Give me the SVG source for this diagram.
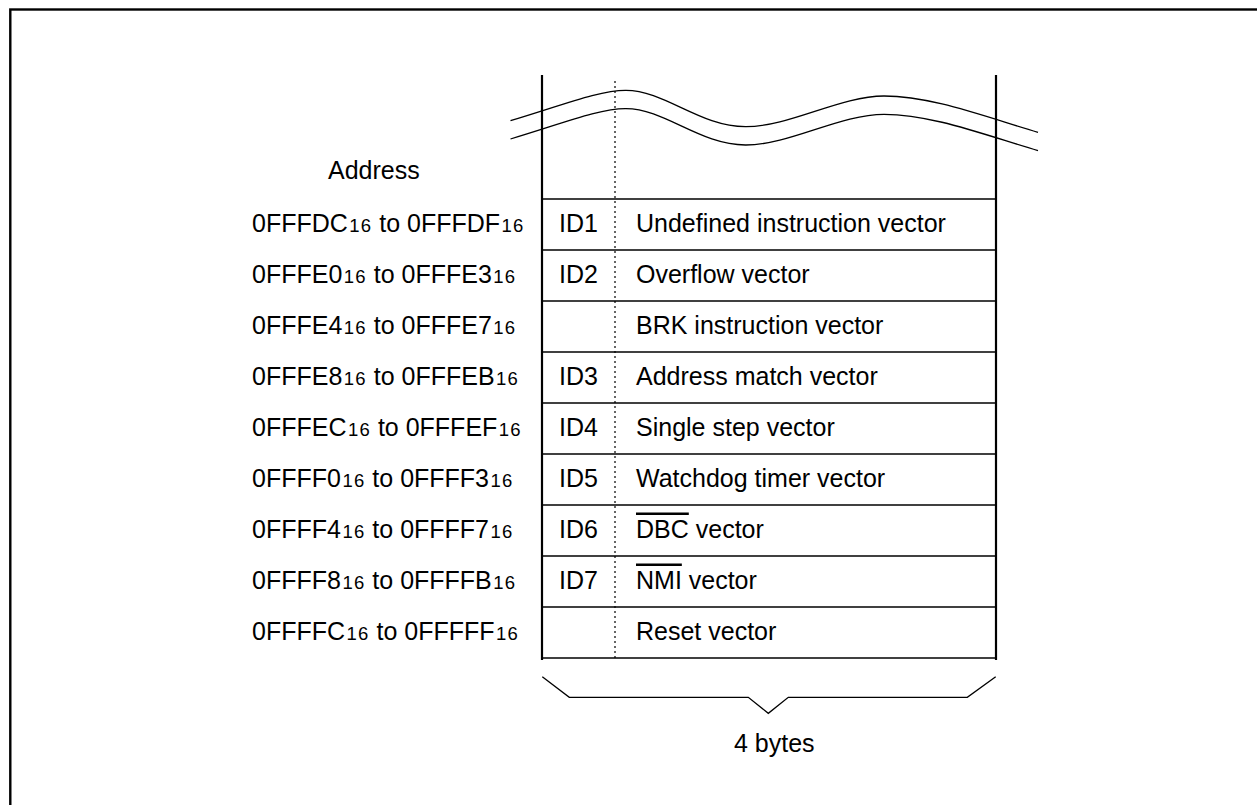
<svg xmlns="http://www.w3.org/2000/svg" width="1257" height="805" viewBox="0 0 1257 805">
<style>
text{font-family:"Liberation Sans",Arial,sans-serif;font-size:25px;fill:#000}
.sub{font-size:18.5px;letter-spacing:1.2px}
.id{text-anchor:middle}
.thin{fill:none;stroke:#000;stroke-width:1.3}
.row{stroke:#000;stroke-width:1.5}
.col{stroke:#000;stroke-width:2.2}
.dot{stroke:#000;stroke-width:1.2;stroke-dasharray:2 3}
.ov{text-decoration:overline}
</style>
<rect x="10.3" y="9.5" width="1400" height="1000" fill="#fff" stroke="#000" stroke-width="2.4"/>
<g id="table">
<line class="col" x1="542" y1="75" x2="542" y2="660"/>
<line class="col" x1="996" y1="75" x2="996" y2="660"/>
<line class="dot" x1="615" y1="81" x2="615" y2="658"/>
<g id="break">
<path class="thin" d="M510.5,120.7 C560,106 600,90 626,90.3 C665,90.5 700,127 746,126.7 C790,126.5 840,96 884,96 C930,96 980,115 1038,132.3"/>
<path class="thin" d="M510.5,120.7 C560,106 600,90 626,90.3 C665,90.5 700,127 746,126.7 C790,126.5 840,96 884,96 C930,96 980,115 1038,132.3" transform="translate(0,18.3)"/>
</g>
<g id="rowlines">
<line class="row" x1="542" y1="199" x2="996" y2="199"/>
<line class="row" x1="542" y1="250" x2="996" y2="250"/>
<line class="row" x1="542" y1="301" x2="996" y2="301"/>
<line class="row" x1="542" y1="352" x2="996" y2="352"/>
<line class="row" x1="542" y1="403" x2="996" y2="403"/>
<line class="row" x1="542" y1="454" x2="996" y2="454"/>
<line class="row" x1="542" y1="505" x2="996" y2="505"/>
<line class="row" x1="542" y1="556" x2="996" y2="556"/>
<line class="row" x1="542" y1="607" x2="996" y2="607"/>
<line class="row" x1="542" y1="658" x2="996" y2="658"/>
</g>
</g>
<text id="address-title" x="328" y="179">Address</text>
<g id="row1"><text x="252" y="231.5">0FFFDC<tspan class="sub" dx="1.5">16</tspan> to 0FFFDF<tspan class="sub" dx="1.5">16</tspan></text><text class="id" x="578.5" y="231.5">ID1</text><text x="636" y="231.5">Undefined instruction vector</text></g>
<g id="row2"><text x="252" y="282.5">0FFFE0<tspan class="sub" dx="1.5">16</tspan> to 0FFFE3<tspan class="sub" dx="1.5">16</tspan></text><text class="id" x="578.5" y="282.5">ID2</text><text x="636" y="282.5">Overflow vector</text></g>
<g id="row3"><text x="252" y="333.5">0FFFE4<tspan class="sub" dx="1.5">16</tspan> to 0FFFE7<tspan class="sub" dx="1.5">16</tspan></text><text x="636" y="333.5">BRK instruction vector</text></g>
<g id="row4"><text x="252" y="384.5">0FFFE8<tspan class="sub" dx="1.5">16</tspan> to 0FFFEB<tspan class="sub" dx="1.5">16</tspan></text><text class="id" x="578.5" y="384.5">ID3</text><text x="636" y="384.5">Address match vector</text></g>
<g id="row5"><text x="252" y="435.5">0FFFEC<tspan class="sub" dx="1.5">16</tspan> to 0FFFEF<tspan class="sub" dx="1.5">16</tspan></text><text class="id" x="578.5" y="435.5">ID4</text><text x="636" y="435.5">Single step vector</text></g>
<g id="row6"><text x="252" y="486.5">0FFFF0<tspan class="sub" dx="1.5">16</tspan> to 0FFFF3<tspan class="sub" dx="1.5">16</tspan></text><text class="id" x="578.5" y="486.5">ID5</text><text x="636" y="486.5">Watchdog timer vector</text></g>
<g id="row7"><text x="252" y="537.5">0FFFF4<tspan class="sub" dx="1.5">16</tspan> to 0FFFF7<tspan class="sub" dx="1.5">16</tspan></text><text class="id" x="578.5" y="537.5">ID6</text><text x="636" y="537.5"><tspan class="ov">DBC</tspan> vector</text></g>
<g id="row8"><text x="252" y="588.5">0FFFF8<tspan class="sub" dx="1.5">16</tspan> to 0FFFFB<tspan class="sub" dx="1.5">16</tspan></text><text class="id" x="578.5" y="588.5">ID7</text><text x="636" y="588.5"><tspan class="ov">NMI</tspan> vector</text></g>
<g id="row9"><text x="252" y="639.5">0FFFFC<tspan class="sub" dx="1.5">16</tspan> to 0FFFFF<tspan class="sub" dx="1.5">16</tspan></text><text x="636" y="639.5">Reset vector</text></g>
<g id="brace">
<path class="thin" d="M542.3,676.7 L569.3,697.3 L748.3,697.3 L768.3,713.3 L788.3,697.3 L967.3,697.3 L995.7,676.7"/>
<text x="734" y="752">4 bytes</text>
</g>
</svg>
